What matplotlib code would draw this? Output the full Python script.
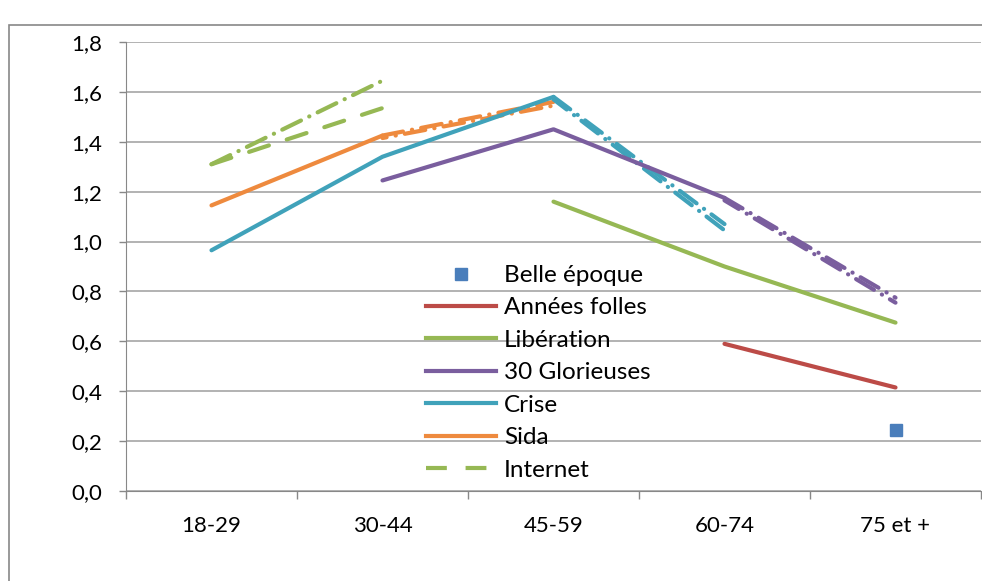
import matplotlib.pyplot as plt
import numpy as np
from matplotlib.patches import Rectangle
from matplotlib.lines import Line2D

plt.rcParams['font.family'] = ['Lato', 'DejaVu Sans']

categories = ['18-29', '30-44', '45-59', '60-74', '75 et +']
nan = np.nan

# series observees
belle_epoque = [nan, nan, nan, nan, 0.245]
annees_folles = [nan, nan, nan, 0.59, 0.415]
liberation = [nan, nan, 1.16, 0.90, 0.675]
glorieuses = [nan, 1.245, 1.45, 1.175, nan]
crise = [0.965, 1.34, 1.58, nan, nan]
sida = [1.145, 1.425, nan, nan, nan]
internet = [1.31, 1.535, nan, nan, nan]

# prolongements (tirets-points)
internet_proj = [1.31, 1.645, nan, nan, nan]
sida_proj_a = [nan, 1.425, 1.56, nan, nan]
sida_proj_b = [nan, 1.415, 1.545, nan, nan]
crise_proj_a = [nan, nan, 1.58, 1.07, nan]
crise_proj_b = [nan, nan, 1.57, 1.045, nan]
glorieuses_proj_a = [nan, nan, nan, 1.175, 0.775]
glorieuses_proj_b = [nan, nan, nan, 1.165, 0.755]

c_blue = '#4A7EBB'
c_red = '#BC4B47'
c_green = '#96B854'
c_purple = '#7A5E9E'
c_aqua = '#40A2BA'
c_orange = '#EE8A3E'

fig = plt.figure(figsize=(9.82, 5.81), dpi=100)
fig.patches.append(Rectangle((9 / 982, -0.1), 1.2, 1 - 25 / 581 + 0.1,
                             transform=fig.transFigure, fill=False,
                             edgecolor='#888888', linewidth=1.2))
ax = fig.add_axes([126 / 982, 90 / 581, 855 / 982, 449 / 581])

x = np.arange(len(categories))
lw = 3.0


def seg(vals, color, style='-', offset=0):
    ls = style
    if style == 'dashdot':
        ls = (offset, (5, 2.2, 0.05, 2.2))
    elif style == 'dashed':
        ls = (offset, (5, 4.5))
    ax.plot(x, vals, color=color, lw=lw, linestyle=ls,
            solid_capstyle='round', dash_capstyle='round', zorder=3)


seg(internet_proj, c_green, 'dashdot')
seg(sida_proj_a, c_orange, 'dashdot')
seg(sida_proj_b, c_orange, 'dashdot', 4)
seg(crise_proj_a, c_aqua, 'dashdot')
seg(crise_proj_b, c_aqua, 'dashdot', 1)
seg(glorieuses_proj_a, c_purple, 'dashdot')
seg(glorieuses_proj_b, c_purple, 'dashdot', 1)

ax.plot(x, belle_epoque, linestyle='none', marker='s', markersize=9,
        color=c_blue, zorder=4)
seg(annees_folles, c_red)
seg(liberation, c_green)
seg(glorieuses, c_purple)
seg(crise, c_aqua)
seg(sida, c_orange)
seg(internet, c_green, 'dashed')

ax.set_xlim(-0.5, 4.5)
ax.set_ylim(0, 1.8)
ax.set_yticks(np.arange(0, 1.81, 0.2))
ax.set_yticklabels([f'{v:.1f}'.replace('.', ',') for v in np.arange(0, 1.81, 0.2)])
ax.set_xticks(x)
ax.set_xticklabels(categories)
ax.set_xticks(np.arange(-0.5, 4.6, 1), minor=True)
ax.tick_params(axis='x', which='major', length=0, pad=18, labelsize=16)
ax.tick_params(axis='x', which='minor', length=6, color='#888888', width=1)
ax.tick_params(axis='y', length=5, color='#888888', width=1, pad=12, labelsize=16)
ax.grid(axis='y', color='#A6A6A6', linewidth=1.2)
ax.set_axisbelow(True)
for s in ['top', 'right']:
    ax.spines[s].set_visible(False)
ax.spines['left'].set_color('#888888')
ax.spines['bottom'].set_color('#888888')

handles = [
    Line2D([], [], linestyle='none', marker='s', markersize=9, color=c_blue),
    Line2D([], [], color=c_red, lw=lw),
    Line2D([], [], color=c_green, lw=lw),
    Line2D([], [], color=c_purple, lw=lw),
    Line2D([], [], color=c_aqua, lw=lw),
    Line2D([], [], color=c_orange, lw=lw),
    Line2D([], [], color=c_green, lw=lw, linestyle=(0, (5, 4.5))),
]
labels = ['Belle époque', 'Années folles', 'Libération', '30 Glorieuses',
          'Crise', 'Sida', 'Internet']
fig.legend(handles, labels, loc='upper left',
           bbox_to_anchor=(426 / 982, 1 - 265 / 581), frameon=False,
           fontsize=17.5, handlelength=2.9, handletextpad=0.3,
           labelspacing=0.47, borderaxespad=0, borderpad=0)

fig.savefig('out.png', dpi=100)
